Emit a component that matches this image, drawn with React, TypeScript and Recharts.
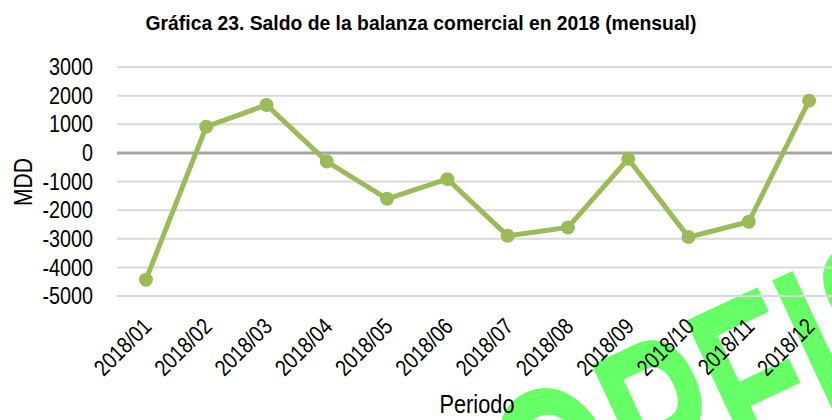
import React from 'react';
import { LineChart, Line, XAxis, YAxis, CartesianGrid, ReferenceLine } from 'recharts';

const months = [
  '2018/01', '2018/02', '2018/03', '2018/04', '2018/05', '2018/06',
  '2018/07', '2018/08', '2018/09', '2018/10', '2018/11', '2018/12',
];
const saldo = [-4430, 917, 1674, -303, -1605, -918, -2895, -2605, -209, -2941, -2407, 1825];
const yTicks = [3000, 2000, 1000, 0, -1000, -2000, -3000, -4000, -5000];
const xTicks = [1, 2, 3, 4, 5, 6, 7, 8, 9, 10, 11, 12];

const data = months.map((m, i) => ({ x: i + 1, periodo: m, saldo: saldo[i] }));

const FONT = '"Liberation Sans", Arial, sans-serif';

// the original uses a narrow face, so squeeze Liberation Sans a bit
const XTick = (props: any) => {
  const { x, y, payload } = props;
  return (
    <text
      transform={`translate(${x + 7},${y + 24}) rotate(-45) scale(0.84,1)`}
      textAnchor="end"
      fill="#000"
      fontSize={23}
      fontFamily={FONT}
    >
      {months[payload.value - 1]}
    </text>
  );
};

const YTick = (props: any) => {
  const { x, y, payload } = props;
  return (
    <text
      transform={`translate(${x},${y}) scale(0.86,1)`}
      textAnchor="end"
      dy="0.355em"
      fill="#000"
      fontSize={23}
      fontFamily={FONT}
    >
      {payload.value}
    </text>
  );
};

export default function App() {
  return (
    <div style={{ position: 'absolute', left: 0, top: 0, width: 832, height: 420, overflow: 'hidden', background: '#fff' }}>
      <svg width={832} height={420} style={{ position: 'absolute', left: 0, top: 0 }}>
        <text
          transform="translate(542,570) rotate(-25) scale(0.65,1)"
          fontFamily={FONT}
          fontWeight="bold"
          fontSize={240}
          fill="#66FF66"
        >
          OPFIS
        </text>
      </svg>
      <div
        style={{
          position: 'absolute', left: 421, top: 22, transform: 'translate(-50%,-50%) scaleX(0.92)',
          fontFamily: FONT, fontWeight: 'bold', fontSize: 21, lineHeight: 1, whiteSpace: 'nowrap',
        }}
      >
        Gráfica 23. Saldo de la balanza comercial en 2018 (mensual)
      </div>
      <div
        style={{
          position: 'absolute', left: 22.5, top: 182, transform: 'translate(-50%,-50%) rotate(-90deg) scaleX(0.84)',
          fontFamily: FONT, fontSize: 25, lineHeight: 1, whiteSpace: 'nowrap',
        }}
      >
        MDD
      </div>
      <div
        style={{
          position: 'absolute', left: 477, top: 404, transform: 'translate(-50%,-50%) scaleX(0.87)',
          fontFamily: FONT, fontSize: 25, lineHeight: 1, whiteSpace: 'nowrap',
        }}
      >
        Periodo
      </div>
      <div style={{ position: 'absolute', left: 0, top: 0 }}>
        <LineChart width={832} height={420} data={data} margin={{ top: 67, right: 0, bottom: 0, left: 0 }}>
          <CartesianGrid horizontal vertical={false} stroke="#D9D9D9" strokeWidth={2} />
          <XAxis
            type="number"
            dataKey="x"
            domain={[0.52, 12.38]}
            ticks={xTicks}
            allowDataOverflow
            axisLine={false}
            tickLine={false}
            height={124}
            tick={<XTick />}
            interval={0}
          />
          <YAxis
            domain={[-5000, 3000]}
            ticks={yTicks}
            interval={0}
            width={117}
            axisLine={false}
            tickLine={false}
            tickSize={0}
            tickMargin={24}
            tick={<YTick />}
          />
          <ReferenceLine y={0} stroke="#A6A6A6" strokeWidth={3} />
          <Line
            type="linear"
            dataKey="saldo"
            stroke="#9BBB59"
            strokeWidth={5}
            dot={{ r: 7, fill: '#9BBB59', stroke: '#9BBB59', strokeWidth: 0 }}
            isAnimationActive={false}
          />
        </LineChart>
      </div>
    </div>
  );
}
